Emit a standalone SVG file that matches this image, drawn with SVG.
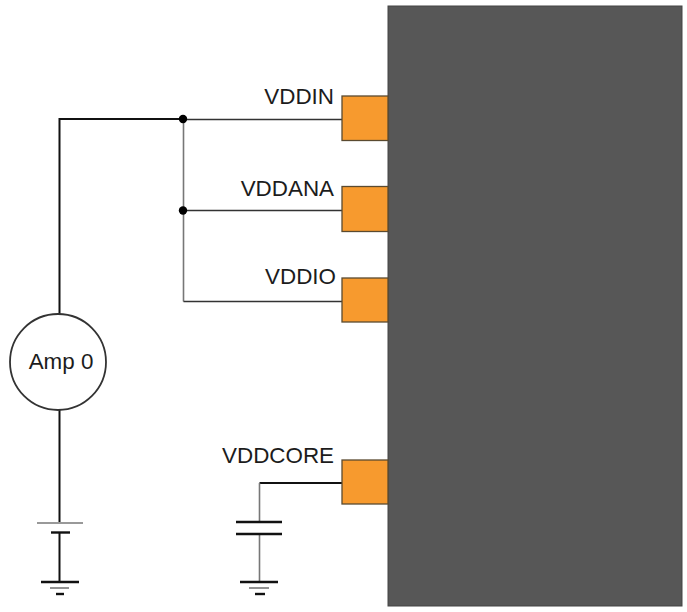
<svg xmlns="http://www.w3.org/2000/svg" width="687" height="612" viewBox="0 0 687 612">
<style>
text{font-family:"Liberation Sans",Arial,sans-serif;font-size:22.400px;fill:#1c1c1c}
.pad{fill:#f79a2e;stroke:#5a4a30;stroke-width:1.3}
.w{fill:none;stroke:#333;stroke-width:1.6}
.g{fill:none;stroke:#777;stroke-width:1.6}
.k{fill:none;stroke:#111;stroke-width:2}
.b{fill:none;stroke:#111;stroke-width:2.400}
</style>
<rect width="687" height="612" fill="#fff"/>
<g id="connectors">
<path class="k" d="M59.500 316V119H183"/>
<path class="w" d="M183 119.500H342"/>
<path class="g" d="M183.500 119.500V301.500"/>
<path class="w" d="M183.500 210.500H342M183.500 301.500H342"/>
<path class="k" d="M59.500 407V522"/>
<path class="g" d="M37 523H83"/>
<path class="b" d="M51 532.500H70"/>
<path class="k" d="M59.500 533V582"/>
<path class="b" d="M41 582H79"/>
<path class="g" d="M50 588H69"/>
<path class="b" d="M56 594H64"/>
<path class="k" d="M342 483H259.500"/>
<path class="g" d="M259.500 483V522M259.500 534V582"/>
<path class="b" d="M236 522H282M236 534H282"/>
<path class="b" d="M240 582H278"/>
<path class="g" d="M249 588H269"/>
<path class="b" d="M255 594H265"/>
<circle cx="183" cy="119" r="4.200" fill="#000"/>
<circle cx="183" cy="210.500" r="4.200" fill="#000"/>
</g>
<g id="chip"><rect x="388" y="6" width="294" height="600" fill="#575757" stroke="#444"/></g>
<g id="vddin"><rect class="pad" x="342" y="96" width="46" height="44.500"/><text x="334" y="104" text-anchor="end">VDDIN</text></g>
<g id="vddana"><rect class="pad" x="342" y="186.500" width="46" height="45"/><text x="334" y="196" text-anchor="end">VDDANA</text></g>
<g id="vddio"><rect class="pad" x="342" y="278" width="46" height="44"/><text x="336" y="284" text-anchor="end">VDDIO</text></g>
<g id="vddcore"><rect class="pad" x="342" y="460" width="46" height="44"/><text x="334" y="463" text-anchor="end">VDDCORE</text></g>
<g id="amp0"><circle cx="58" cy="362" r="48" fill="#fff" stroke="#333" stroke-width="1.800"/><text x="61" y="369" text-anchor="middle">Amp 0</text></g>
</svg>
